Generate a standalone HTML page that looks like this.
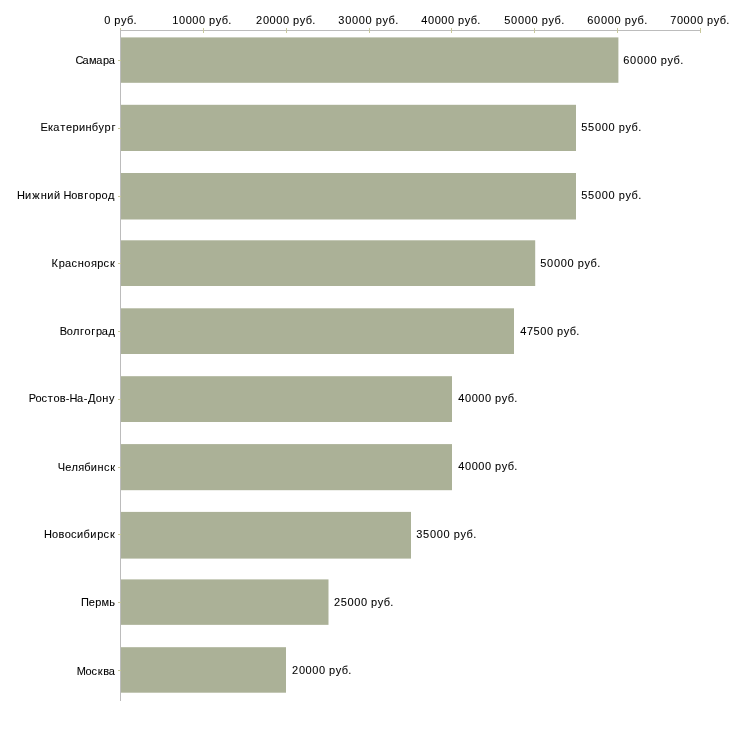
<!DOCTYPE html>
<html><head><meta charset="utf-8"><style>
html,body{margin:0;padding:0;background:#fff;width:730px;height:730px;overflow:hidden}
svg{display:block;will-change:transform}
text{font-family:"Liberation Sans",sans-serif;font-size:11px;fill:#000;stroke:#000;stroke-width:0.08px;}
</style></head><body>
<svg width="730" height="730">
<rect x="120" y="30" width="581" height="1" fill="#bcbcbc"/>
<rect x="120" y="28" width="1" height="5" fill="#c8c89c"/>
<rect x="203" y="28" width="1" height="5" fill="#c8c89c"/>
<rect x="286" y="28" width="1" height="5" fill="#c8c89c"/>
<rect x="369" y="28" width="1" height="5" fill="#c8c89c"/>
<rect x="451" y="28" width="1" height="5" fill="#c8c89c"/>
<rect x="534" y="28" width="1" height="5" fill="#c8c89c"/>
<rect x="617" y="28" width="1" height="5" fill="#c8c89c"/>
<rect x="700" y="28" width="1" height="5" fill="#c8c89c"/>
<rect x="120" y="30" width="1" height="671" fill="#bcbcbc"/>
<rect x="121" y="37.40" width="497.40" height="45.40" fill="#abb197"/>
<rect x="118" y="60" width="3" height="1" fill="#c8c89c"/>
<rect x="121" y="104.80" width="455.00" height="46.20" fill="#abb197"/>
<rect x="118" y="128" width="3" height="1" fill="#c8c89c"/>
<rect x="121" y="173.00" width="455.00" height="46.50" fill="#abb197"/>
<rect x="118" y="196" width="3" height="1" fill="#c8c89c"/>
<rect x="121" y="240.30" width="414.20" height="45.70" fill="#abb197"/>
<rect x="118" y="263" width="3" height="1" fill="#c8c89c"/>
<rect x="121" y="308.30" width="393.00" height="45.70" fill="#abb197"/>
<rect x="118" y="331" width="3" height="1" fill="#c8c89c"/>
<rect x="121" y="376.20" width="331.00" height="45.80" fill="#abb197"/>
<rect x="118" y="399" width="3" height="1" fill="#c8c89c"/>
<rect x="121" y="444.10" width="331.00" height="46.10" fill="#abb197"/>
<rect x="118" y="467" width="3" height="1" fill="#c8c89c"/>
<rect x="121" y="511.90" width="290.00" height="46.70" fill="#abb197"/>
<rect x="118" y="534" width="3" height="1" fill="#c8c89c"/>
<rect x="121" y="579.40" width="207.50" height="45.45" fill="#abb197"/>
<rect x="118" y="602" width="3" height="1" fill="#c8c89c"/>
<rect x="121" y="647.20" width="165.00" height="45.50" fill="#abb197"/>
<rect x="118" y="670" width="3" height="1" fill="#c8c89c"/>
<text x="104.22 110.77 114.32 121.01 126.88 133.51" y="24">0 руб.</text>
<text x="172.22 178.96 185.65 192.33 199.02 205.56 209.10 215.79 221.65 228.26" y="24">10000 руб.</text>
<text x="256.06 262.90 269.60 276.30 282.99 289.55 293.10 299.80 305.67 312.30" y="24">20000 руб.</text>
<text x="338.34 345.13 351.93 358.73 365.54 372.17 375.80 382.60 388.57 395.28" y="24">30000 руб.</text>
<text x="421.28 427.97 434.65 441.33 448.02 454.56 458.10 464.79 470.65 477.26" y="24">40000 руб.</text>
<text x="504.25 511.10 517.91 524.72 531.53 538.17 541.81 548.61 554.59 561.30" y="24">50000 руб.</text>
<text x="587.26 594.07 600.89 607.70 614.51 621.16 624.80 631.60 637.58 644.30" y="24">60000 руб.</text>
<text x="670.19 676.91 683.60 690.30 696.99 703.55 707.09 713.79 719.66 726.28" y="24">70000 руб.</text>
<text x="75.45 82.58 89.06 96.21 102.88 108.66" y="64">Самара</text>
<text x="623.26 630.07 636.89 643.70 650.51 657.16 660.80 667.60 673.58 680.30" y="64">60000 руб.</text>
<text x="40.53 48.05 53.33 60.36 65.97 72.39 78.88 85.58 91.87 98.53 104.56 111.47" y="131">Екатеринбург</text>
<text x="581.25 588.06 594.91 601.72 608.53 615.17 618.81 625.61 631.59 638.30" y="131">55000 руб.</text>
<text x="16.88 24.92 32.21 40.76 47.37 53.98 60.45 63.45 71.31 77.58 84.15 88.89 95.29 101.58 108.10" y="199">Нижний Новгород</text>
<text x="581.25 588.06 594.91 601.72 608.53 615.17 618.81 625.61 631.59 638.30" y="199">55000 руб.</text>
<text x="51.52 58.79 64.88 71.57 77.72 84.35 90.98 97.27 103.61 110.04" y="267">Красноярск</text>
<text x="540.25 547.10 553.91 560.72 567.53 574.17 577.81 584.61 590.59 597.30" y="267">50000 руб.</text>
<text x="59.75 66.84 73.02 79.88 84.49 91.18 95.96 101.71 108.47" y="335">Волгоград</text>
<text x="520.28 526.94 533.61 540.33 547.02 553.56 557.10 563.79 569.65 576.26" y="335">47500 руб.</text>
<text x="28.63 35.38 41.59 47.82 53.48 59.87 65.87 69.50 77.11 83.78 87.88 95.71 102.30 109.05" y="402">Ростов-На-Дону</text>
<text x="458.28 464.97 471.65 478.33 485.02 491.56 495.10 501.79 507.65 514.26" y="402">40000 руб.</text>
<text x="57.82 65.21 71.62 78.33 84.16 90.86 97.62 103.99 110.31" y="471">Челябинск</text>
<text x="458.28 464.97 471.65 478.33 485.02 491.56 495.10 501.79 507.65 514.26" y="470">40000 руб.</text>
<text x="43.97 52.05 58.52 64.66 70.94 77.04 83.53 90.34 97.17 103.51 109.94" y="538">Новосибирск</text>
<text x="416.34 423.08 429.93 436.73 443.54 450.17 453.80 460.60 466.57 473.28" y="538">35000 руб.</text>
<text x="80.89 88.78 95.18 101.47 109.24" y="606">Пермь</text>
<text x="334.06 340.86 347.60 354.30 360.99 367.55 371.10 377.80 383.67 390.30" y="606">25000 руб.</text>
<text x="76.74 85.60 91.57 97.67 103.22 108.66" y="675">Москва</text>
<text x="292.06 298.90 305.60 312.30 318.99 325.55 329.10 335.80 341.67 348.30" y="674">20000 руб.</text>
</svg></body></html>
